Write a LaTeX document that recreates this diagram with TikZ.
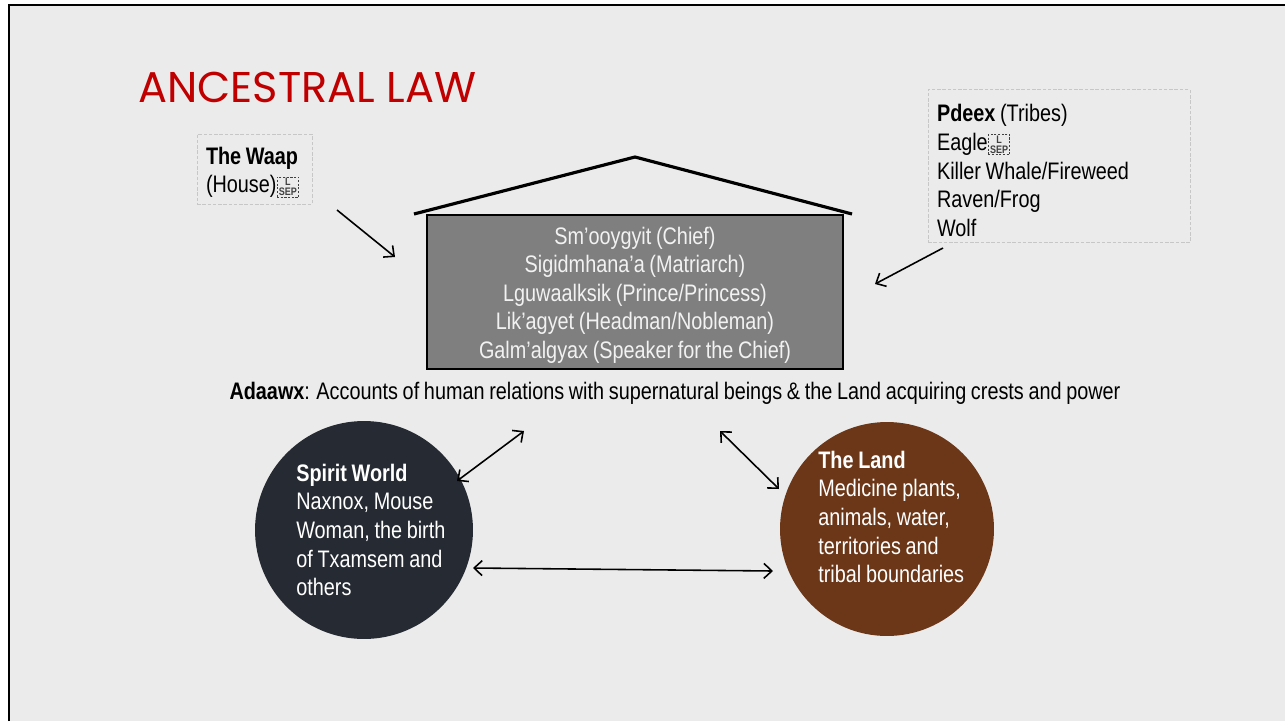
\documentclass[tikz,border=0pt]{standalone}
\usepackage{fontspec}
\setmainfont{Liberation Sans}[FakeStretch=0.83, WordSpace=0.85]
\newfontfamily\titlefont{Poppins}
\usetikzlibrary{arrows.meta}

\definecolor{slidebg}{HTML}{EBEBEB}
\definecolor{housegray}{HTML}{7F7F7F}
\definecolor{housetext}{HTML}{F2F2F2}
\definecolor{spiritcol}{HTML}{262B33}
\definecolor{landcol}{HTML}{6B3718}
\definecolor{titlered}{HTML}{C00000}

\newcommand{\bodyfont}{\fontsize{13.6}{16.3}\selectfont}
\newcommand{\firststrut}[1]{\rule{0pt}{#1}}
\newcommand{\tightsp}{\hspace{2.6pt}}
% the unprinted line-separator mark, as the slide shows it
\newcommand{\sepglyph}{\tikz[baseline=-0.45ex]{\node[draw=black!75, dash pattern=on 1.2pt off 0.9pt, line width=0.55pt, minimum width=0pt, minimum height=0pt, text width={}, inner xsep=1pt, inner ysep=0.7pt, align=center, font=\fontsize{6.2}{5.8}\selectfont\bfseries, text=black!75] {L\\SEP};}}

\tikzset{
  notebox/.style={draw=black!22, dash pattern=on 2pt off 1pt, line width=0.4pt, align=left, font=\bodyfont, inner xsep=0.18cm},
  circletext/.style={anchor=west, align=left, font=\bodyfont, text=white, inner sep=0pt},
  link/.style={line width=0.9pt}
}

\begin{document}
\begin{tikzpicture}[x=0.02cm, y=-0.02cm, >={Straight Barb[length=1.6mm,width=3mm]}]
        \useasboundingbox (0,0) rectangle (1285,721);
        % Slide
        \fill[white] (0,0) rectangle (1285,721);
        \fill[slidebg] (9,5) rectangle (1285,721);
        \draw[line width=1.4pt] (9,721) -- (9,5) -- (1285,5);

        % Title
        \node[anchor=base west, inner sep=0pt, text=titlered, font=\titlefont\fontsize{24.5}{29}\selectfont] (title) at (138,102) {ANCESTRAL LAW};

        % House and its roles
        \node[draw=black, line width=1.2pt, fill=housegray, minimum width=8.32cm, minimum height=3.08cm, align=center, text=housetext, font=\bodyfont] (house) at (635,292)
          {\firststrut{13.4pt}Sm’ooygyit (Chief)\\Sigidmhana’a (Matriarch)\\Lguwaalksik (Prince/Princess)\\Lik’agyet (Headman/Nobleman)\\Galm’algyax (Speaker for the Chief)};
        \draw[line width=1.8pt] (414,214) -- (635,157) -- (852,214);

        % Notes
        \node[notebox, minimum width=2.3cm, minimum height=1.4cm, text width=1.94cm] (waap) at (254.5,169)
          {\firststrut{13.6pt}\textbf{The\tightsp Waap}\\(House)\sepglyph};
        \node[notebox, minimum width=5.24cm, minimum height=2.96cm, text width=4.88cm] (pdeex) at (1059,166)
          {\firststrut{15pt}\textbf{Pdeex}\tightsp(Tribes)\\Eagle\sepglyph\\Killer\tightsp Whale/Fireweed\\Raven/Frog\\Wolf};

        \node[font=\bodyfont, inner sep=0pt] (adaawx) at (675,393)
          {\textbf{Adaawx}: Accounts of human relations with supernatural beings \& the Land acquiring crests and power};

        % Spirit World and the Land
        \node[circle, fill=spiritcol, minimum size=4.36cm, inner sep=0pt] (spirit) at (364,530) {};
        \node[circletext] (spirittxt) at (296,530)
          {\textbf{Spirit World}\\Naxnox, Mouse\\Woman, the birth\\of Txamsem and\\others};
        \node[circle, fill=landcol, minimum size=4.28cm, inner sep=0pt] (land) at (887,529) {};
        \node[circletext] (landtxt) at (818,517)
          {\textbf{The Land}\\Medicine plants,\\animals, water,\\territories and\\tribal boundaries};

        % Arrows
        \coordinate (waapfrom) at (337,210);
        \coordinate (waapto) at (395,257);
        \coordinate (pdeexfrom) at (943,248);
        \coordinate (pdeexto) at (875,284);
        \coordinate (spiritup) at (457,481);
        \coordinate (adaawxleft) at (524,431);
        \coordinate (adaawxright) at (720,431);
        \coordinate (landup) at (779,489);
        \coordinate (spiritright) at (473,568);
        \coordinate (landleft) at (773,571);
        \draw[link, ->] (waapfrom) -- (waapto);
        \draw[link, ->] (pdeexfrom) -- (pdeexto);
        \draw[link, <->] (spiritup) -- (adaawxleft);
        \draw[link, <->] (adaawxright) -- (landup);
        \draw[link, <->] (spiritright) -- (landleft);
\end{tikzpicture}
\end{document}
